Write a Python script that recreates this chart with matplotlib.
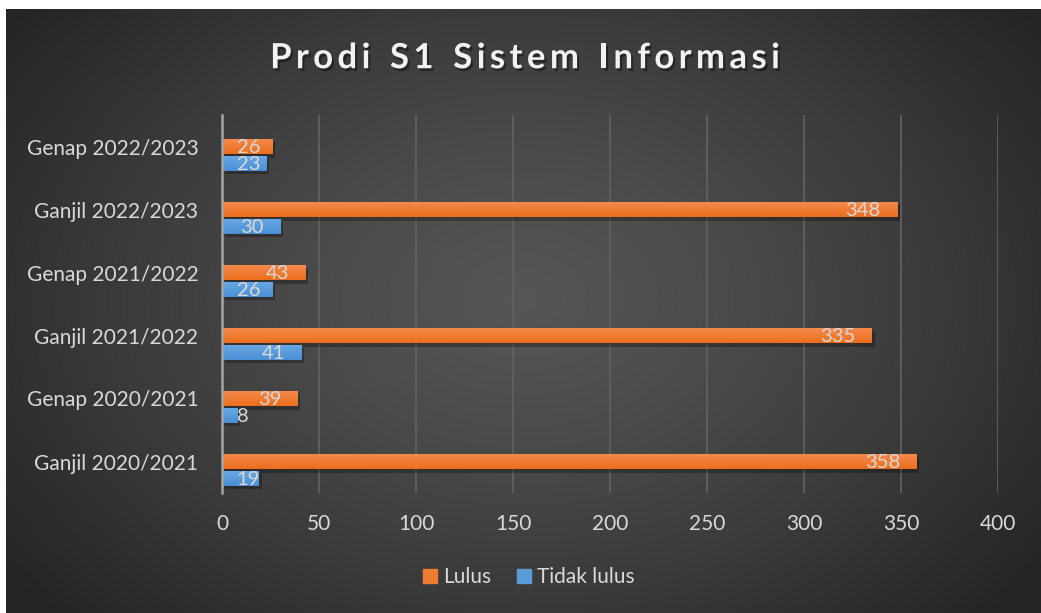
import numpy as np
import matplotlib
matplotlib.use("Agg")
import matplotlib.pyplot as plt
import matplotlib.patheffects as pe
from matplotlib.patches import Patch

plt.rcParams["font.family"] = ["Lato", "DejaVu Sans"]

categories = ["Ganjil 2020/2021", "Genap 2020/2021", "Ganjil 2021/2022",
              "Genap 2021/2022", "Ganjil 2022/2023", "Genap 2022/2023"]
lulus = [358, 39, 335, 43, 348, 26]
tidak_lulus = [19, 8, 41, 26, 30, 23]
x_ticks = [0, 50, 100, 150, 200, 250, 300, 350, 400]
title = "Prodi S1 Sistem Informasi"

TXT = "#d9d9d9"
ORANGE = "#ed7d31"
BLUE = "#5b9bd5"

W, H = 1041, 613
fig = plt.figure(figsize=(W / 100, H / 100), dpi=100)
fig.patch.set_facecolor("white")

# radial gradient background (white strip left and top)
bg = fig.add_axes([6 / W, 0, 1 - 6 / W, 1 - 9 / H])
bg.set_axis_off()
yy, xx = np.mgrid[0:1:300j, 0:1:500j]
r = np.sqrt(((xx - 0.5) / 0.62) ** 2 + ((yy - 0.52) / 0.75) ** 2)
r = np.clip(r, 0, 1)
shade = 0.335 - 0.19 * r ** 1.3
bg.imshow(np.dstack([shade, shade, shade]), extent=[0, 1, 0, 1],
          aspect="auto", origin="lower", interpolation="bicubic")
bg.set_xlim(0, 1)
bg.set_ylim(0, 1)

ax = fig.add_axes([222 / W, 120 / H, 776 / W, 378 / H])
ax.patch.set_alpha(0)

y = np.arange(len(categories))
h = 0.24
shadow = [pe.withSimplePatchShadow(offset=(2, -2.5), shadow_rgbFace="black", alpha=0.28)]
b1 = ax.barh(y, lulus, height=h, color=ORANGE, zorder=3, path_effects=shadow)
b2 = ax.barh(y - 0.265, tidak_lulus, height=h, color=BLUE, zorder=3, path_effects=shadow)

# soft vertical gradient on each bar
grad = np.linspace(0, 1, 50).reshape(-1, 1)
for bars, top, bot in [(b1, "#f48c4f", "#ec6e1c"), (b2, "#6aa9e4", "#4a8fd6")]:
    c1 = np.array(matplotlib.colors.to_rgb(bot))
    c2 = np.array(matplotlib.colors.to_rgb(top))
    img = c1 + (c2 - c1) * grad[..., None]
    for p in bars:
        x0, y0, w, hh = p.get_x(), p.get_y(), p.get_width(), p.get_height()
        im = ax.imshow(img, extent=[x0, x0 + w, y0, y0 + hh], aspect="auto",
                       origin="lower", zorder=3.5)
        im.set_clip_path(p)

ax.set_xlim(0, 400)
ax.set_ylim(-0.5, len(categories) - 0.5)
ax.set_xticks(x_ticks)
ax.set_yticks(y)
ax.set_yticklabels(categories)
ax.tick_params(axis="both", length=0, labelsize=15, labelcolor=TXT)
ax.tick_params(axis="x", pad=15)
ax.tick_params(axis="y", pad=17)
ax.grid(axis="x", color="#606060", linewidth=1.3, zorder=0)
ax.set_axisbelow(True)
for s in ["top", "right", "bottom"]:
    ax.spines[s].set_visible(False)
ax.spines["left"].set_color("#a6a6a6")
ax.spines["left"].set_linewidth(1.8)
ax.spines["left"].set_zorder(5)

# data labels, inside end
fig.canvas.draw()
rend = fig.canvas.get_renderer()
inv = ax.transData.inverted()
for bars, vals in [(b1, lulus), (b2, tidak_lulus)]:
    for p, v in zip(bars, vals):
        t = ax.text(0, p.get_y() + p.get_height() / 2 - 0.015, str(v),
                    ha="left", va="center", fontsize=14.5, color=TXT, zorder=6)
        bb = t.get_window_extent(rend)
        tw = inv.transform((bb.width, 0))[0] - inv.transform((0, 0))[0]
        t.set_x(max(v - 8.5 - tw, 7.5))

# title with letter spacing, laid out char by char
tshadow = [pe.withSimplePatchShadow(offset=(1.5, -2), shadow_rgbFace="black", alpha=0.4)]
tkw = dict(fontsize=25, fontweight="bold", color="#f2f2f2", va="center", ha="left")
widths = []
for ch in title:
    tt = fig.text(0, 0, ch if ch != " " else "n", **tkw)
    widths.append(tt.get_window_extent(rend).width * (0.55 if ch == " " else 1))
    tt.remove()
spacing = 4.4
total = sum(widths) + spacing * (len(title) - 1)
x = 525 - total / 2
for ch, wch in zip(title, widths):
    if ch != " ":
        fig.text(x / W, 0.905, ch, path_effects=tshadow, **tkw)
    x += wch + spacing

handles = [Patch(color=ORANGE, label="Lulus"), Patch(color=BLUE, label="Tidak lulus")]
fig.legend(handles=handles, loc="center", bbox_to_anchor=(0.508, 0.058), ncol=2,
           frameon=False, fontsize=15, labelcolor=TXT, handlelength=0.7,
           handleheight=0.7, handletextpad=0.3, columnspacing=1.2)

fig.savefig("out.png", dpi=100, facecolor=fig.get_facecolor())
